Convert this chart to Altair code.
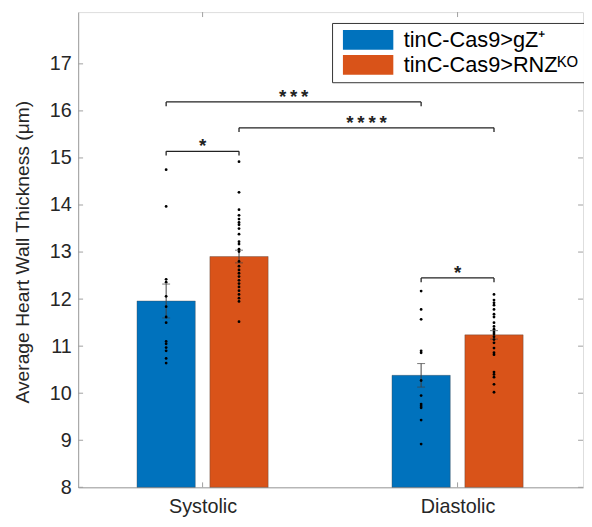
import altair as alt
import pandas as pd

# ---------------- data ----------------
categories = ["Systolic", "Diastolic"]
groups = ["tinC-Cas9>gZ\u207a", "tinC-Cas9>RNZ\u1d37\u1d3c"]
colors = ["#0072BD", "#D95319"]

mean_gz = [11.96, 10.38]
mean_rnz = [12.905, 11.24]
sem_gz = [0.36, 0.25]
sem_rnz = [0.135, 0.09]

pts_sys_gz = [14.75, 13.97, 12.42, 12.36, 12.06, 11.84, 11.62, 11.50, 11.10,
              11.05, 10.97, 10.90, 10.74, 10.64]
pts_sys_rnz = [14.92, 14.27, 13.90, 13.78, 13.70, 13.63, 13.58, 13.50, 13.38,
               13.22, 13.17, 13.06, 13.01, 12.80, 12.70, 12.62, 12.55, 12.48,
               12.40, 12.33, 12.26, 12.18, 12.10, 12.02, 11.95, 11.52]
pts_dia_gz = [12.17, 11.78, 11.57, 10.90, 10.86, 10.27, 9.95, 9.77, 9.73,
              9.69, 9.43, 8.92]
pts_dia_rnz = [12.10, 11.98, 11.92, 11.87, 11.78, 11.68, 11.62, 11.50, 11.42,
               11.36, 11.30, 11.26, 11.20, 11.14, 11.07, 10.96, 10.86, 10.82,
               10.45, 10.40, 10.34, 10.19, 10.02]

br_cat1 = ["Systolic", "Systolic", "Systolic", "Diastolic"]
br_grp1 = [0, 0, 1, 0]
br_cat2 = ["Systolic", "Diastolic", "Diastolic", "Diastolic"]
br_grp2 = [1, 0, 1, 1]
br_level = [15.14, 16.19, 15.64, 12.45]
br_label = ["*", "*\u2009*\u2009*", "*\u2009*\u2009*\u2009*", "*"]

y_ticks = [8, 9, 10, 11, 12, 13, 14, 15, 16, 17]
x_ticks = [1, 2]

# ---------------- layout constants ----------------
W, H = 511, 481
Y_MIN, Y_MAX = 8, 18.1
GROUP_OFF = 0.1429
HALF_BAR = 0.1143
LEG = 0.09
FONT = "Liberation Sans"
AX = "#a0a0a0"
TXT = "#262626"


def xpos(cat, grp):
    return categories.index(cat) + 1 + (2 * grp - 1) * GROUP_OFF


bars = []
for ci, c in enumerate(categories):
    for gi, (m, s) in enumerate([(mean_gz[ci], sem_gz[ci]), (mean_rnz[ci], sem_rnz[ci])]):
        x = xpos(c, gi)
        bars.append(dict(cat=c, group=groups[gi], x=x, xl=x - HALF_BAR, xr=x + HALF_BAR,
                         mean=m, lo=m - s, hi=m + s))
bars = pd.DataFrame(bars)

pts = []
for c, gi, vals in [("Systolic", 0, pts_sys_gz), ("Systolic", 1, pts_sys_rnz),
                    ("Diastolic", 0, pts_dia_gz), ("Diastolic", 1, pts_dia_rnz)]:
    for v in vals:
        pts.append(dict(x=xpos(c, gi), v=v))
pts = pd.DataFrame(pts)

brk = []
for c1, g1, c2, g2, lv, lab in zip(br_cat1, br_grp1, br_cat2, br_grp2, br_level, br_label):
    x1, x2 = xpos(c1, g1), xpos(c2, g2)
    brk.append(dict(x1=x1, x2=x2, xm=(x1 + x2) / 2, level=lv, foot=lv - LEG, label=lab))
brk = pd.DataFrame(brk)

xscale = alt.Scale(domain=[0.512, 2.492], nice=False, zero=False)
yscale = alt.Scale(domain=[Y_MIN, Y_MAX], nice=False, zero=False)

label_expr = "datum.value == 1 ? '%s' : '%s'" % (categories[0], categories[1])

bar_layer = alt.Chart(bars).mark_bar(stroke="#404040", strokeWidth=0.6, strokeOpacity=0.6).encode(
    x=alt.X("xl:Q", scale=xscale,
            axis=alt.Axis(values=x_ticks, labelExpr=label_expr, tickSize=0, grid=False,
                          domainColor=AX, labelFont=FONT, labelFontSize=20, labelColor=TXT,
                          labelPadding=9, title=None)),
    x2="xr:Q",
    y=alt.Y("mean:Q", scale=yscale,
            axis=alt.Axis(values=y_ticks, tickSize=0, grid=False, domainColor=AX,
                          labelFont=FONT, labelFontSize=20, labelColor=TXT, labelPadding=7,
                          title="Average Heart Wall Thickness (\u03bcm)", titleFont=FONT,
                          titleFontSize=19.5, titleFontWeight="normal", titleColor=TXT,
                          titleX=-50, titleY=H / 2 + 2, titleAngle=270,
                          titleAlign="center", titleBaseline="alphabetic")),
    y2=alt.datum(Y_MIN),
    color=alt.Color("group:N", scale=alt.Scale(domain=groups, range=colors),
                    legend=alt.Legend(orient="none", legendX=257, legendY=11, title=None,
                                      symbolType="M-2.55,-1H2.55V1H-2.55Z", symbolSize=400,
                                      symbolStrokeWidth=0, symbolOffset=19.5,
                                      labelOffset=25, labelFont=FONT, labelFontSize=22,
                                      labelColor="#000000", padding=6, rowPadding=3.5,
                                      strokeColor="#333333", fillColor="white",
                                      labelLimit=400)),
)

err_rule = alt.Chart(bars).mark_rule(color="#404040", strokeWidth=1).encode(
    x="x:Q", y="lo:Q", y2="hi:Q")
err_cap_hi = alt.Chart(bars).mark_tick(color="#404040", orient="horizontal", size=8,
                                       thickness=1).encode(x="x:Q", y="hi:Q")
err_cap_lo = alt.Chart(bars).mark_tick(color="#404040", orient="horizontal", size=8,
                                       thickness=1).encode(x="x:Q", y="lo:Q")

pt_layer = alt.Chart(pts).mark_circle(color="black", size=8, opacity=1).encode(
    x="x:Q", y="v:Q")

br_h = alt.Chart(brk).mark_rule(color="#222222", strokeWidth=1.3).encode(
    x="x1:Q", x2="x2:Q", y="level:Q")
br_l = alt.Chart(brk).mark_rule(color="#222222", strokeWidth=1.3).encode(
    x="x1:Q", y="foot:Q", y2="level:Q")
br_r = alt.Chart(brk).mark_rule(color="#222222", strokeWidth=1.3).encode(
    x="x2:Q", y="foot:Q", y2="level:Q")
br_t = alt.Chart(brk).mark_text(font=FONT, fontSize=19, fontWeight="bold", color="#222222",
                                baseline="alphabetic", align="center", dy=1).encode(
    x="xm:Q", y="level:Q", text="label:N")

yt = pd.DataFrame({"t": y_ticks})
xt = pd.DataFrame({"t": x_ticks})
ytick_l = alt.Chart(yt).mark_rule(color=AX).encode(y="t:Q", x=alt.value(0), x2=alt.value(5))
ytick_r = alt.Chart(yt).mark_rule(color=AX).encode(y="t:Q", x=alt.value(W - 5), x2=alt.value(W))
xtick_b = alt.Chart(xt).mark_rule(color=AX).encode(x="t:Q", y=alt.value(H), y2=alt.value(H - 5))
xtick_t = alt.Chart(xt).mark_rule(color=AX).encode(x="t:Q", y=alt.value(0), y2=alt.value(5))

chart = alt.layer(
    bar_layer, err_rule, err_cap_hi, err_cap_lo, pt_layer,
    br_h, br_l, br_r, br_t, ytick_l, ytick_r, xtick_b, xtick_t
).properties(
    width=W, height=H,
    padding={"left": 71, "top": 1, "right": 1, "bottom": 35},
    autosize=alt.AutoSizeParams(type="none"),
).configure_view(stroke=AX, strokeWidth=1).configure(background="white")

chart.save("out.html", embed_options={"renderer": "svg", "actions": False})
